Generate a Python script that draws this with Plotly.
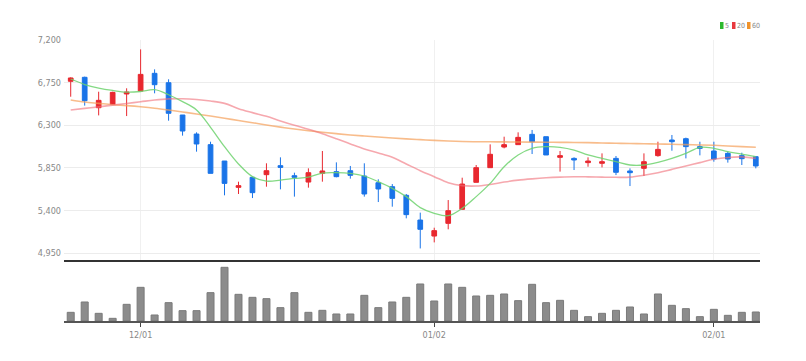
import plotly.graph_objects as go
from plotly.subplots import make_subplots

# ---- data ----
open_ = [6764, 6806, 6485, 6521, 6630, 6661, 6848, 6749, 6408, 6207,
         6095, 5922, 5644, 5750, 5778, 5873, 5767, 5700, 5792, 5810,
         5820, 5764, 5693, 5651, 5560, 5299, 5130, 5264, 5412, 5697,
         5852, 6070, 6095, 6204, 6179, 5961, 5950, 5905, 5898, 5950,
         5817, 5845, 5979, 6144, 6158, 6074, 6028, 6003, 5979, 5968]
high = [6806, 6813, 6654, 6654, 6690, 7101, 6890, 6785, 6408, 6225,
        6126, 5922, 5704, 5757, 5898, 5961, 5799, 5845, 6028, 5908,
        5870, 5898, 5729, 5679, 5574, 5377, 5218, 5510, 5746, 5880,
        6098, 6179, 6225, 6250, 6179, 6028, 5961, 5961, 6003, 5975,
        5845, 6003, 6126, 6197, 6169, 6126, 6126, 6021, 6010, 5975]
low = [6601, 6507, 6404, 6521, 6397, 6661, 6637, 6348, 6190, 6021,
       5792, 5560, 5574, 5531, 5651, 5623, 5546, 5641, 5704, 5750,
       5736, 5546, 5489, 5440, 5317, 4999, 5063, 5201, 5412, 5697,
       5852, 6056, 6095, 5996, 5986, 5810, 5827, 5862, 5855, 5774,
       5658, 5764, 5968, 6031, 5950, 5982, 5915, 5905, 5880, 5845]
close = [6799, 6559, 6563, 6647, 6651, 6837, 6728, 6426, 6239, 6102,
         5792, 5686, 5662, 5588, 5820, 5855, 5750, 5799, 5817, 5757,
         5771, 5574, 5627, 5528, 5356, 5201, 5187, 5398, 5679, 5852,
         5993, 6095, 6172, 6126, 5986, 5979, 5933, 5922, 5915, 5803,
         5799, 5915, 6045, 6126, 6074, 6056, 5943, 5943, 5947, 5870]
volume = [26, 57, 23, 8, 50, 101, 18, 55, 31, 31,
          85, 161, 80, 71, 67, 40, 85, 26, 32, 21,
          21, 77, 40, 57, 71, 111, 60, 111, 101, 75,
          77, 81, 61, 110, 55, 62, 32, 13, 23, 32,
          42, 21, 81, 47, 37, 13, 35, 17, 26, 27]
ma5 = [6788, 6730, 6692, 6667, 6650, 6656, 6675, 6622, 6549, 6461,
       6278, 6074, 5891, 5757, 5710, 5720, 5738, 5752, 5795, 5800,
       5792, 5764, 5704, 5634, 5546, 5430, 5370, 5345, 5422, 5546,
       5686, 5862, 5986, 6056, 6074, 6067, 6038, 5986, 5950, 5915,
       5880, 5880, 5908, 5950, 6003, 6067, 6056, 6021, 5996, 5968]
ma20 = [6461, 6478, 6494, 6512, 6530, 6548, 6566, 6578, 6580, 6572,
        6556, 6531, 6475, 6433, 6394, 6345, 6299, 6257, 6211, 6158,
        6102, 6049, 6007, 5961, 5891, 5820, 5757, 5693, 5662, 5658,
        5675, 5700, 5720, 5734, 5745, 5752, 5756, 5755, 5752, 5750,
        5752, 5772, 5799, 5834, 5869, 5905, 5940, 5960, 5966, 5950]
ma60 = [6566, 6545, 6531, 6517, 6507, 6495, 6480, 6461, 6440, 6419,
        6397, 6374, 6350, 6327, 6302, 6280, 6260, 6242, 6226, 6211,
        6197, 6186, 6176, 6165, 6156, 6148, 6140, 6133, 6128, 6126,
        6125, 6124, 6123, 6122, 6121, 6119, 6118, 6116, 6113, 6110,
        6107, 6105, 6102, 6099, 6095, 6092, 6088, 6081, 6074, 6067]
idx = list(range(len(close)))
x_tick_pos = [5, 26, 46]
x_tick_text = ["12/01", "01/02", "02/01"]
y_tick_vals = [4950, 5400, 5850, 6300, 6750, 7200]
y_tick_text = ["4,950", "5,400", "5,850", "6,300", "6,750", "7,200"]
legend_labels = ["5", "20", "60"]
legend_colors = ["#2db82d", "#e8383d", "#f0932b"]

UP = "#e8282f"
DOWN = "#1a74e8"
FONT = "Liberation Sans Narrow, DejaVu Sans Condensed, Arial Narrow, sans-serif"

W, H = 790, 345          # page body has an 8px margin
ML, MR, MT, MB = 56, 38, 32, 32
PW = W - ML - MR
PH = H - MT - MB

fig = make_subplots(rows=2, cols=1, shared_xaxes=True, vertical_spacing=0.0071,
                    row_heights=[0.783, 0.21])

fig.add_trace(go.Scatter(x=idx, y=ma60, mode="lines", line=dict(color="rgba(245,160,90,0.7)", width=1.6, shape="spline", smoothing=1.0),
                         hoverinfo="skip", showlegend=False), row=1, col=1)
fig.add_trace(go.Scatter(x=idx, y=ma20, mode="lines", line=dict(color="rgba(240,110,120,0.6)", width=1.6, shape="spline", smoothing=1.0),
                         hoverinfo="skip", showlegend=False), row=1, col=1)
fig.add_trace(go.Scatter(x=idx, y=ma5, mode="lines", line=dict(color="rgba(110,210,110,0.85)", width=1.3, shape="spline", smoothing=1.0),
                         hoverinfo="skip", showlegend=False), row=1, col=1)
fig.add_trace(go.Candlestick(x=idx, open=open_, high=high, low=low, close=close,
                             increasing=dict(line=dict(color=UP, width=1), fillcolor=UP),
                             decreasing=dict(line=dict(color=DOWN, width=1), fillcolor=DOWN),
                             whiskerwidth=0, showlegend=False), row=1, col=1)
fig.add_trace(go.Bar(x=idx, y=volume, marker=dict(color="#8c8c8c", line=dict(color="#7a7a7a", width=1)),
                     width=0.5, showlegend=False), row=2, col=1)

fig.update_layout(
    width=W, height=H,
    margin=dict(l=ML, r=MR, t=MT, b=MB),
    paper_bgcolor="white", plot_bgcolor="white",
    boxgap=0.52,
    font=dict(family=FONT, color="#888", size=9),
    xaxis=dict(range=[-0.48, 49.3], rangeslider=dict(visible=False), showgrid=True, gridcolor="#f0f0f0",
               tickvals=x_tick_pos, showticklabels=False, showline=True, linecolor="#333", linewidth=2,
               zeroline=False, ticks=""),
    xaxis2=dict(range=[-0.48, 49.3], showgrid=False, tickvals=x_tick_pos, ticktext=x_tick_text,
                showline=True, linecolor="#555", linewidth=2, ticks="outside", ticklen=4, tickcolor="#444",
                zeroline=False, tickfont=dict(size=9, color="#888", family=FONT)),
    yaxis=dict(range=[4877, 7200], tickvals=y_tick_vals, ticktext=y_tick_text, showgrid=True,
               gridcolor="#ececec", zeroline=False, ticks="", ticklabelstandoff=2,
               tickfont=dict(size=9, color="#888", family=FONT)),
    yaxis2=dict(range=[0, 177], showticklabels=False, showgrid=False, zeroline=False),
)

# legend (top-right) built from shapes + text, positions in page pixels
lx = [720, 732, 747]
for i, (lab, col) in enumerate(zip(legend_labels, legend_colors)):
    px = lx[i] - 8
    x0 = (px - ML) / PW
    x1 = (px + 3.5 - ML) / PW
    fig.add_shape(type="rect", xref="paper", yref="paper", x0=x0, x1=x1,
                  y0=1 + (40 - 29) / PH, y1=1 + (40 - 22) / PH, fillcolor=col, line=dict(width=0))
    fig.add_annotation(xref="paper", yref="paper", x=x1, y=1 + (40 - 25.5) / PH, text=lab,
                       showarrow=False, xanchor="left", yanchor="middle", xshift=-1,
                       font=dict(size=7, color="#888", family=FONT))

fig.write_html("out.html")
